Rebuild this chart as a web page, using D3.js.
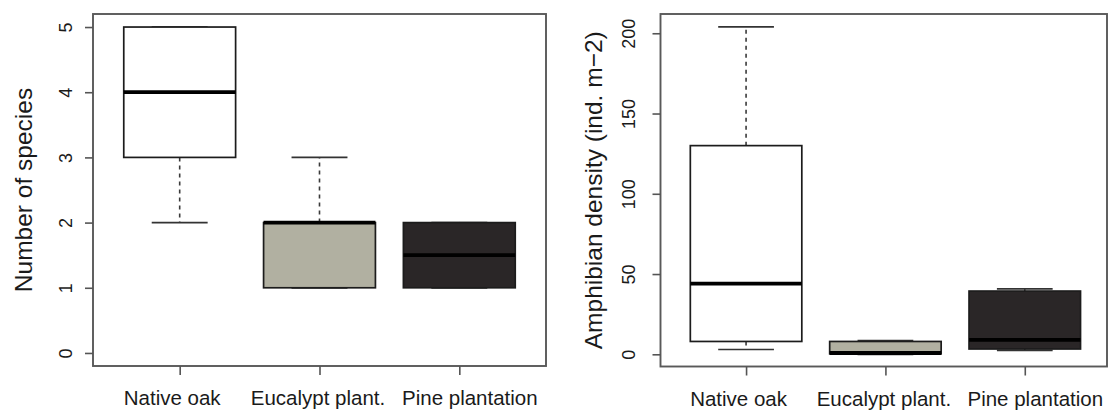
<!DOCTYPE html>
<html>
<head>
<meta charset="utf-8">
<script src="https://cdn.jsdelivr.net/npm/d3@7"></script>
<style>
  html, body { margin: 0; padding: 0; background: #ffffff; }
  svg { display: block; }
  text { font-family: "Liberation Sans", Arial, sans-serif; fill: #1a1a1a; }
</style>
</head>
<body>
<svg id="chart" width="1112" height="412"></svg>
<script>
// Habitat categories shared by both panels
const categories = ["Native oak", "Eucalypt plant.", "Pine plantation"];
const boxFills = ["#ffffff", "#b1b0a1", "#2a2627"];

// Panel A: number of amphibian species
const speciesMin    = [2, 1, 1];
const speciesQ1     = [3, 1, 1];
const speciesMedian = [4, 2, 1.5];
const speciesQ3     = [5, 2, 2];
const speciesMax    = [5, 3, 2];
const speciesTicks  = [0, 1, 2, 3, 4, 5];

// Panel B: amphibian density (individuals per m2)
const densityMin    = [3, 0, 2.5];
const densityQ1     = [8, 0.3, 3.3];
const densityMedian = [44, 0.8, 9];
const densityQ3     = [130, 8, 39.4];
const densityMax    = [204, 8.5, 40.7];
const densityTicks  = [0, 50, 100, 150, 200];

// horizontal nudges (px) that spread the category labels apart a little
const labelNudge = [-8, -2, 10];

const svg = d3.select("#chart");

function drawPanel(cfg) {
  const { left, right, top, bottom, yDomain, xDomain, ticks, title, tickLabelGap, titleGap,
          mins, q1s, medians, q3s, maxs } = cfg;

  const x = d3.scaleLinear().domain(xDomain).range([left, right]);
  const y = d3.scaleLinear().domain(yDomain).range([bottom, top]);
  const unit = x(2) - x(1);
  const boxW = unit * 0.8;
  const capW = boxW * 0.5;

  const g = svg.append("g");

  const rows = categories.map((c, i) => ({
    name: c, pos: i + 1, fill: boxFills[i],
    min: mins[i], q1: q1s[i], med: medians[i], q3: q3s[i], max: maxs[i]
  }));

  const box = g.selectAll("g.box").data(rows).join("g").attr("class", "box");

  // whiskers (dashed)
  box.append("line")
    .attr("x1", d => x(d.pos)).attr("x2", d => x(d.pos))
    .attr("y1", d => y(d.q3)).attr("y2", d => y(d.max))
    .attr("stroke", "#3a3a3a").attr("stroke-width", 1.6).attr("stroke-dasharray", "4,4");
  box.append("line")
    .attr("x1", d => x(d.pos)).attr("x2", d => x(d.pos))
    .attr("y1", d => y(d.q1)).attr("y2", d => y(d.min))
    .attr("stroke", "#3a3a3a").attr("stroke-width", 1.6).attr("stroke-dasharray", "4,4");

  // staples
  box.selectAll("line.cap").data(d => [d.min, d.max].map(v => ({ v, pos: d.pos })))
    .join("line").attr("class", "cap")
    .attr("x1", d => x(d.pos) - capW / 2).attr("x2", d => x(d.pos) + capW / 2)
    .attr("y1", d => y(d.v)).attr("y2", d => y(d.v))
    .attr("stroke", "#333").attr("stroke-width", 1.7);

  // boxes
  box.append("rect")
    .attr("x", d => x(d.pos) - boxW / 2)
    .attr("width", boxW)
    .attr("y", d => y(d.q3))
    .attr("height", d => y(d.q1) - y(d.q3))
    .attr("fill", d => d.fill)
    .attr("stroke", "#1c1c1c").attr("stroke-width", 1.7);

  // medians
  box.append("line")
    .attr("x1", d => x(d.pos) - boxW / 2).attr("x2", d => x(d.pos) + boxW / 2)
    .attr("y1", d => y(d.med)).attr("y2", d => y(d.med))
    .attr("stroke", "#000").attr("stroke-width", 3.8);

  // plot frame
  g.append("rect")
    .attr("x", left).attr("y", top)
    .attr("width", right - left).attr("height", bottom - top)
    .attr("fill", "none").attr("stroke", "#595959").attr("stroke-width", 1.9);

  // y axis
  const yAxis = g.append("g")
    .attr("transform", `translate(${left},0)`)
    .call(d3.axisLeft(y).tickValues(ticks).tickSize(8).tickFormat(d3.format("d")));
  yAxis.select(".domain").remove();
  yAxis.selectAll(".tick line").attr("stroke", "#555").attr("stroke-width", 1.6);
  yAxis.selectAll(".tick text")
    .attr("transform", "rotate(-90)")
    .attr("x", 0).attr("y", -tickLabelGap).attr("dy", 0)
    .attr("text-anchor", "middle")
    .style("font-size", "18px");

  // x axis
  const xAxis = g.append("g")
    .attr("transform", `translate(0,${bottom})`)
    .call(d3.axisBottom(x).tickValues([1, 2, 3]).tickSize(9)
      .tickFormat(d => categories[d - 1]));
  xAxis.select(".domain").remove();
  xAxis.selectAll(".tick line").attr("stroke", "#555").attr("stroke-width", 1.6);
  xAxis.selectAll(".tick text")
    .attr("y", 0).attr("dy", 0)
    .attr("transform", (d, i) => `translate(${labelNudge[i]},39)`)
    .style("font-size", "20.5px");

  // y axis title
  g.append("text")
    .attr("transform", `translate(${left - titleGap},${(top + bottom) / 2}) rotate(-90)`)
    .attr("text-anchor", "middle")
    .style("font-size", "24.5px")
    .text(title);
}

drawPanel({
  left: 93, right: 546, top: 14, bottom: 366,
  xDomain: [0.38, 3.62], yDomain: [-0.2, 5.2],
  ticks: speciesTicks, title: "Number of species",
  tickLabelGap: 21, titleGap: 61,
  mins: speciesMin, q1s: speciesQ1, medians: speciesMedian, q3s: speciesQ3, maxs: speciesMax
});

drawPanel({
  left: 660.5, right: 1107, top: 14, bottom: 366.5,
  xDomain: [0.386, 3.59], yDomain: [-7.6, 212],
  ticks: densityTicks, title: "Amphibian density (ind. m\u22122)",
  tickLabelGap: 26, titleGap: 59,
  mins: densityMin, q1s: densityQ1, medians: densityMedian, q3s: densityQ3, maxs: densityMax
});
</script>
</body>
</html>
